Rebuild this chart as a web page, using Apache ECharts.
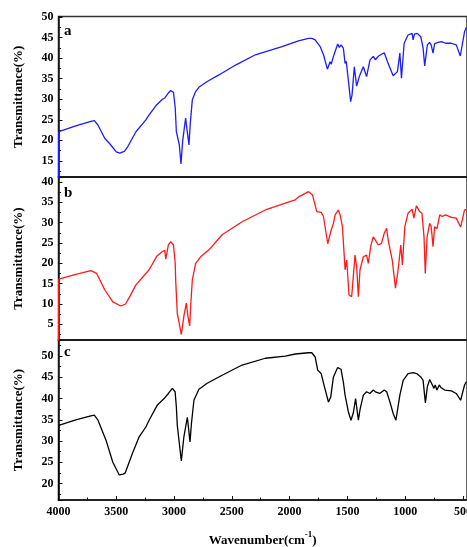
<!DOCTYPE html>
<html>
<head>
<meta charset="utf-8">
<script src="https://cdn.jsdelivr.net/npm/echarts@6/dist/echarts.min.js"></script>
<style>
html,body{margin:0;padding:0;background:#fff;}
#chart{width:467px;height:547px;}
</style>
</head>
<body>
<div id="chart"></div>
<script>
// ---- data (wavenumber in cm-1, transmittance in %) ----
const wnA = [4000,3998,3850,3720,3690,3660,3600,3560,3500,3470,3430,3400,3330,3244,3216,3158,3101,3080,3072,3050,3029,3005,2990,2980,2965,2955,2940,2925,2900,2885,2871,2860,2842,2815,2785,2713,2612,2468,2296,2066,1923,1836,1808,1779,1736,1707,1673,1650,1640,1621,1584,1570,1555,1535,1520,1510,1492,1472,1460,1440,1420,1397,1362,1334,1305,1276,1258,1230,1181,1153,1104,1067,1046,1032,1009,975,940,931,920,895,865,845,831,808,790,775,759,745,715,687,650,600,558,523,486,470];
const tA  = [5,22.1,23.5,24.6,24.8,23.8,20.5,19.3,17.2,16.9,17.3,18.5,22.1,25.0,26.2,28.4,30.0,30.3,30.0,31.5,32.1,31.7,28,22.1,21.9,19,14.3,20,25.4,22,18.9,24,29.8,31.8,32.9,34.3,35.9,38.3,40.8,42.8,44.2,44.8,44.8,44.4,42.8,40.8,37.3,39.1,38.5,40.4,43.4,42.6,43.2,42.4,38.7,39.2,34.7,29.4,31,37.9,33.2,35.5,37.9,35.5,39.5,40.4,39.6,40.5,41.3,39.1,35.7,36.7,41.2,35.1,43.6,45.6,46.0,44.4,45.8,46.0,45.2,42.4,38.1,43.2,43.8,43.2,41.2,43.5,43.8,44.0,43.6,43.6,43.2,40.5,46.4,47.5];

const wnB = [4000,3998,3850,3720,3704,3670,3600,3530,3460,3420,3380,3330,3244,3216,3150,3101,3080,3072,3049,3029,3005,2990,2986,2972,2960,2937,2915,2894,2880,2865,2855,2842,2813,2770,2698,2584,2411,2210,2037,1951,1923,1836,1802,1765,1727,1707,1670,1644,1621,1606,1595,1578,1563,1543,1520,1506,1498,1486,1463,1455,1434,1420,1405,1391,1362,1334,1319,1296,1276,1258,1233,1205,1181,1161,1147,1112,1084,1061,1038,1024,1003,975,940,925,903,874,855,837,826,810,788,775,759,745,725,701,680,650,600,558,520,486,470];
const tB  = [-5,16.1,17.3,18.2,18.4,17.5,13.5,10.5,9.5,10.0,12,14.7,17.5,18.4,21.7,22.9,23.2,21.0,24.5,25.3,24.5,20,15.9,7.7,7.6,2.5,7,10.2,7,4.6,10,15.9,20.0,21.6,23.3,27.0,30.2,33.1,34.8,35.6,36.3,37.6,36.8,32.7,32.5,31.5,24.8,27.8,29.8,31.9,31.6,33.1,31.9,29.0,18.4,20.8,17.5,12.2,11.8,12.2,22.0,19.2,11.8,18.4,21.6,22,20.0,24.5,26.5,25.7,24.5,24.9,27.4,28.6,25.7,20.8,13.9,18.4,24.5,19.6,29.0,32.3,33.3,31.1,34.1,32.7,32.3,26.5,17.5,26.5,29.8,29,24.1,29.0,28.5,31.9,31.5,31.9,31.3,31.1,28.9,33.1,33.2];

const wnC = [4000,3998,3850,3720,3690,3660,3589,3530,3474,3440,3422,3360,3302,3244,3216,3144,3086,3075,3049,3015,2991,2980,2972,2960,2937,2915,2885,2862,2850,2828,2785,2713,2584,2411,2210,2037,1951,1836,1808,1779,1757,1727,1699,1664,1644,1621,1584,1555,1535,1520,1510,1492,1469,1449,1429,1405,1390,1362,1334,1305,1276,1258,1220,1181,1160,1132,1104,1080,1046,1017,975,931,900,888,865,845,825,808,788,770,751,740,725,705,690,658,600,558,520,486,470];
const tC  = [5,33.7,35.0,35.9,36.1,35.0,30.2,25,22.0,22.2,22.5,27.1,31.0,33.3,34.9,38.5,40.0,39.6,41.2,42.4,41.6,38,33.7,33.3,25.3,31,35.6,29.8,34,39.6,42.2,43.6,45.5,47.9,49.5,50.0,50.5,50.8,50.8,49.8,46.7,45.9,42.8,39.2,40.4,45.1,47.3,46.9,43.9,40.8,40.5,36.9,34.9,36.6,40.0,34.9,37.5,40.8,41.6,41.2,42.0,41.6,41.2,42.0,41.6,39.2,36.5,34.9,40.8,44.3,45.9,46.1,45.9,46.3,45.1,44.3,39.0,42.8,44.5,43.5,42.4,43.2,42,43.2,42.6,42.0,41.8,41.2,39.6,43.2,44];

const panelLabels = ['a','b','c'];
const yRanges = [[11.1,50.1],[1.15,41.2],[16.1,53.8]];
const xRange = [465, 4000];
const tickStepY = 5, tickStepX = 500;
const yTitle = 'Transmittance(%)';
const colors = ['#1c1cff','#ff1a1a','#000000'];

const zip = (xs, ys) => xs.map((x, i) => [x, ys[i]]);
const seriesData = [zip(wnA,tA), zip(wnB,tB), zip(wnC,tC)];

const FONT = '"Liberation Serif","Times New Roman",serif';
const grids = [
  {left:58.5, right:0, top:16.5, height:160.5},
  {left:58.5, right:0, top:177, height:163},
  {left:58.5, right:0, top:340, height:160}
].map(g => Object.assign(g, {show:true, borderColor:'#333', borderWidth:1.5, backgroundColor:'transparent',
  containLabel:false, outerBoundsMode:'none'}));

const isMult = (v, s) => Math.abs(v/s - Math.round(v/s)) < 1e-6;

const xAxes = [0,1,2].map(i => ({
  type:'value', gridIndex:i, inverse:true, min:xRange[0], max:xRange[1],
  minInterval:tickStepX, maxInterval:tickStepX,
  axisLine:{show:true, onZero:false, lineStyle:{color:'#111', width:1.5}},
  axisTick:{show:i===2, inside:true, length:4, lineStyle:{color:'#111'}},
  minorTick:{show:i===2, splitNumber:2, length:2.5, lineStyle:{color:'#111'}},
  splitLine:{show:false},
  axisLabel:{show:i===2, margin:6, color:'#000', fontFamily:FONT, fontWeight:'bold', fontSize:12,
    hideOverlap:false, showMinLabel:true, showMaxLabel:true,
    formatter: v => isMult(v, tickStepX) ? String(v) : ''},
  name: i===2 ? 'Wavenumber(cm{sup|-1})' : '',
  nameLocation:'middle', nameGap:30,
  nameTextStyle:{color:'#000', fontFamily:FONT, fontWeight:'bold', fontSize:13,
    rich:{sup:{fontFamily:FONT, fontWeight:'bold', fontSize:9, verticalAlign:'top', lineHeight:22, color:'#000'}}}
}));

const yAxes = [0,1,2].map(i => ({
  type:'value', gridIndex:i, min:yRanges[i][0], max:yRanges[i][1],
  minInterval:tickStepY, maxInterval:tickStepY,
  axisLine:{show:true, onZero:false, lineStyle:{color:'#111', width:1.5}},
  axisTick:{show:true, inside:true, length:4, lineStyle:{color:'#111'}},
  minorTick:{show:true, splitNumber:2, length:2.5, lineStyle:{color:'#111'}},
  splitLine:{show:false},
  axisLabel:{margin:5, color:'#000', fontFamily:FONT, fontWeight:'bold', fontSize:12,
    formatter: v => isMult(v, tickStepY) ? String(Math.round(v)) : ''},
  name:yTitle, nameLocation:'middle', nameGap:33,
  nameTextStyle:{color:'#000', fontFamily:FONT, fontWeight:'bold', fontSize:13}
}));

const series = [0,1,2].map(i => ({
  type:'line', xAxisIndex:i, yAxisIndex:i, data:seriesData[i],
  showSymbol:false, symbol:'none', smooth:false, clip:true,
  lineStyle:{color:colors[i], width:1.3}, z:3
}));

const labelTops = [24, 186, 345];
const graphic = panelLabels.map((t, i) => ({
  type:'text', left:64, top:labelTops[i], z:10,
  style:{text:t, fill:'#000', font:'bold 15px ' + FONT}
}));

const chart = echarts.init(document.getElementById('chart'), null, {renderer:'canvas'});
chart.setOption({
  animation:false,
  backgroundColor:'#fff',
  grid:grids, xAxis:xAxes, yAxis:yAxes, series:series, graphic:graphic
});
</script>
</body>
</html>
